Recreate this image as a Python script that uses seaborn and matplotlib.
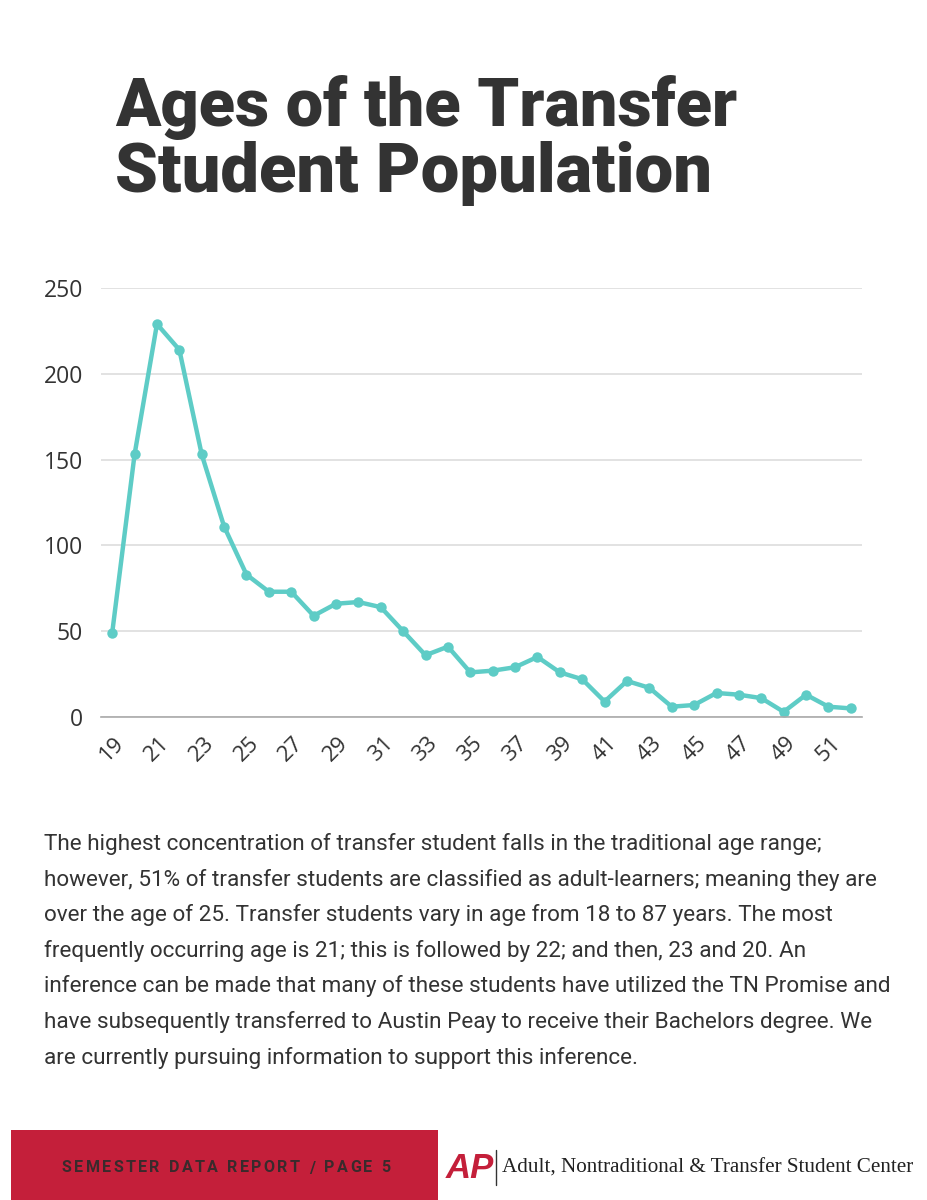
import matplotlib
matplotlib.use("Agg")
import matplotlib.pyplot as plt
import seaborn as sns
import pandas as pd
from matplotlib.patches import Rectangle

ages = list(range(19, 53))
counts = [49, 153, 229, 214, 153, 111, 83, 73, 73, 59, 66, 67, 64, 50, 36, 41,
          26, 27, 29, 35, 26, 22, 9, 21, 17, 6, 7, 14, 13, 11, 3, 13, 6, 5]
yticks = [0, 50, 100, 150, 200, 250]
xtick_labels = [str(a) for a in range(19, 53, 2)]

title_lines = ["Ages of the Transfer", "Student Population"]
body_lines = [
    "The highest concentration of transfer student falls in the traditional age range;",
    "however, 51% of transfer students are classified as adult-learners; meaning they are",
    "over the age of 25. Transfer students vary in age from 18 to 87 years. The most",
    "frequently occurring age is 21; this is followed by 22; and then, 23 and 20. An",
    "inference can be made that many of these students have utilized the TN Promise and",
    "have subsequently transferred to Austin Peay to receive their Bachelors degree. We",
    "are currently pursuing information to support this inference.",
]
footer_text = "SEMESTER DATA REPORT / PAGE 5"
center_text = "Adult, Nontraditional & Transfer Student Center"

sns.set_theme(style="white")
plt.rcParams['font.family'] = ['Open Sans', 'DejaVu Sans']

W, H = 927, 1200
fig = plt.figure(figsize=(W / 100, H / 100), dpi=100)
fig.patch.set_facecolor("white")

def fx(px):
    return px / W

def fy(py):
    return 1 - py / H

df = pd.DataFrame({"age": ages, "count": counts})
ax = fig.add_axes([fx(101), fy(717), fx(862) - fx(101), fy(288) - fy(717)])
sns.lineplot(data=df, x="age", y="count", ax=ax, color="#5ECCC6", linewidth=3.2,
             marker="o", markersize=7.5, markeredgewidth=0, clip_on=False)
ax.set_xlim(18.5, 52.5)
ax.set_ylim(0, 250)
ax.set_yticks(yticks)
ax.set_yticklabels([str(v) for v in yticks], fontsize=16.5, color="#333333")
ax.set_xticks(list(range(19, 53, 2)))
ax.set_xticklabels(xtick_labels, fontsize=16, color="#333333", rotation=45,
                   ha="center", va="center", rotation_mode="anchor")
ax.tick_params(axis="x", pad=23, length=0)
ax.tick_params(axis="y", pad=13, length=0)
ax.grid(axis="y", color="#DDDDDD", linewidth=1.2)
ax.set_axisbelow(True)
for s in ["top", "right", "left"]:
    ax.spines[s].set_visible(False)
ax.spines["bottom"].set_color("#AAAAAA")
ax.spines["bottom"].set_linewidth(1.2)
ax.set_xlabel("")
ax.set_ylabel("")

# Title
fig.text(fx(115), fy(126), title_lines[0], fontsize=48, fontweight="black",
         color="#333333", family=["Roboto", "DejaVu Sans"], va="baseline")
fig.text(fx(115), fy(192), title_lines[1], fontsize=49.5, fontweight="black",
         color="#333333", family=["Roboto", "DejaVu Sans"], va="baseline")

# Body text
for i, line in enumerate(body_lines):
    fig.text(fx(44), fy(850 + i * 35.6), line, fontsize=16.2, color="#333333",
             family=["Roboto", "DejaVu Sans"], va="baseline")

# Footer
fig.patches.append(Rectangle((fx(11), 0), fx(438) - fx(11), fy(1130), transform=fig.transFigure,
                             facecolor="#C41F3A", edgecolor="none"))

renderer = fig.canvas.get_renderer()
x = 62.0
spacing = 2.3
for ch in footer_text:
    t = fig.text(fx(x), fy(1168), ch, fontsize=11.6, fontweight="bold", color="#3A2A2C",
                 va="center", family=["Roboto", "DejaVu Sans"])
    if ch == " ":
        w = 4.5
    else:
        w = t.get_window_extent(renderer).width
    x += w + spacing

fig.text(fx(446), fy(1168), "AP", fontsize=25, fontweight="heavy", style="italic",
         color="#C41F3A", va="center", family=["Liberation Sans", "DejaVu Sans"])
fig.add_artist(plt.Line2D([fx(496), fx(496)], [fy(1150), fy(1185)], color="#333333", lw=1))
fig.text(fx(502), fy(1168), center_text, fontsize=15.2, color="#222222", va="center",
         family=["Liberation Serif", "DejaVu Serif"])

fig.savefig("out.png", dpi=100, facecolor="white")
